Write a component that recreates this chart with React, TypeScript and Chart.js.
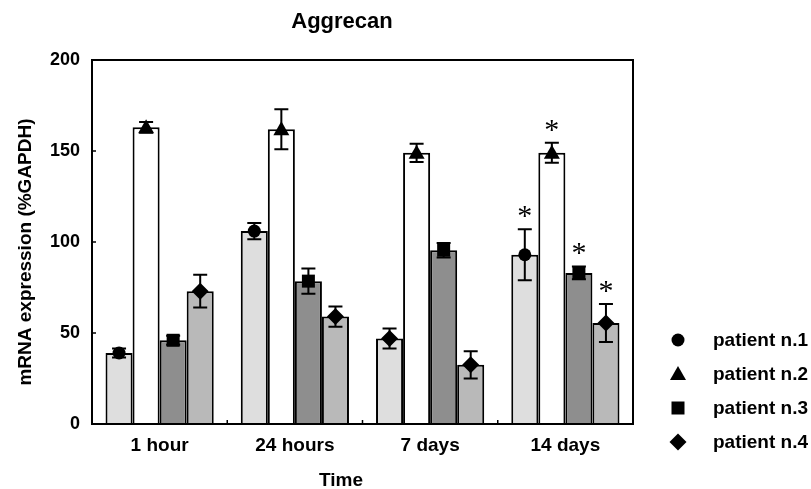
import React, { useEffect, useRef } from "react";
import { Chart, registerables } from "chart.js";

Chart.register(...registerables);

const categories = ["1 hour", "24 hours", "7 days", "14 days"];
const seriesNames = ["patient n.1", "patient n.2", "patient n.3", "patient n.4"];

const patient1 = [39, 106, 47, 93];
const patient1Err = [2.5, 4.5, 5.5, 14];
const patient2 = [163, 162, 149, 149];
const patient2Err = [3, 11, 5, 5.5];
const patient3 = [46, 78.5, 95.5, 83];
const patient3Err = [2.5, 7, 4, 3.5];
const patient4 = [73, 59, 32.5, 55.5];
const patient4Err = [9, 5.5, 7.5, 10.5];

const patient1Markers = ["circle", "circle", "diamond", "circle"];
const patient2Markers = ["triangle", "triangle", "triangle", "triangle"];
const patient3Markers = ["square", "square", "square", "square"];
const patient4Markers = ["diamond", "diamond", "diamond", "diamond"];

const patient1Sig = [false, false, false, true];
const patient2Sig = [false, false, false, true];
const patient3Sig = [false, false, false, true];
const patient4Sig = [false, false, false, true];

const legendMarkers = ["circle", "triangle", "square", "diamond"];
const yTicks = [0, 50, 100, 150, 200];

const titleText = "Aggrecan";
const xTitle = "Time";
const yTitle = "mRNA expression (%GAPDH)";

const FONT = '"Liberation Sans", Arial, Helvetica, sans-serif';

const values = [patient1, patient2, patient3, patient4];
const errors = [patient1Err, patient2Err, patient3Err, patient4Err];
const markers = [patient1Markers, patient2Markers, patient3Markers, patient4Markers];
const sigs = [patient1Sig, patient2Sig, patient3Sig, patient4Sig];
const colors = ["#dedede", "#ffffff", "#8e8e8e", "#b9b9b9"];

function drawMarker(ctx: CanvasRenderingContext2D, shape: string, x: number, y: number) {
  ctx.beginPath();
  if (shape === "circle") {
    ctx.arc(x, y, 6.5, 0, Math.PI * 2);
  } else if (shape === "triangle") {
    ctx.moveTo(x, y - 8);
    ctx.lineTo(x + 8, y + 6);
    ctx.lineTo(x - 8, y + 6);
    ctx.closePath();
  } else if (shape === "square") {
    ctx.rect(x - 6.5, y - 6.5, 13, 13);
  } else {
    ctx.moveTo(x, y - 8.5);
    ctx.lineTo(x + 8.5, y);
    ctx.lineTo(x, y + 8.5);
    ctx.lineTo(x - 8.5, y);
    ctx.closePath();
  }
  ctx.fillStyle = "#000";
  ctx.fill();
}

const decorPlugin = {
  id: "decor",
  afterDatasetsDraw(chart: any) {
    const ctx: CanvasRenderingContext2D = chart.ctx;
    const ys = chart.scales.y;
    ctx.save();
    chart.data.datasets.forEach((_: any, i: number) => {
      const meta = chart.getDatasetMeta(i);
      meta.data.forEach((el: any, j: number) => {
        const v = values[i][j];
        const e = errors[i][j];
        const x = el.x;
        const yt = ys.getPixelForValue(v + e);
        const yb = ys.getPixelForValue(v - e);
        ctx.strokeStyle = "#000";
        ctx.lineWidth = 2;
        ctx.beginPath();
        ctx.moveTo(x, yt);
        ctx.lineTo(x, yb);
        ctx.moveTo(x - 7, yt);
        ctx.lineTo(x + 7, yt);
        ctx.moveTo(x - 7, yb);
        ctx.lineTo(x + 7, yb);
        ctx.stroke();
        drawMarker(ctx, markers[i][j], x, el.y);
        if (sigs[i][j]) {
          ctx.fillStyle = "#000";
          ctx.font = '30px "Liberation Serif", "Times New Roman", serif';
          ctx.textAlign = "center";
          ctx.textBaseline = "middle";
          ctx.fillText("*", x, yt - 12);
        }
      });
    });
    ctx.restore();
  },
  afterDraw(chart: any) {
    const ctx: CanvasRenderingContext2D = chart.ctx;
    const a = chart.chartArea;
    const ys = chart.scales.y;
    const xs = chart.scales.x;
    ctx.save();
    ctx.strokeStyle = "#000";
    ctx.lineWidth = 2;
    ctx.strokeRect(a.left, a.top, a.right - a.left, a.bottom - a.top);
    ctx.lineWidth = 1.5;
    ctx.beginPath();
    yTicks.forEach((t) => {
      const y = ys.getPixelForValue(t);
      ctx.moveTo(a.left, y);
      ctx.lineTo(a.left + 4, y);
    });
    for (let k = 1; k < categories.length; k++) {
      const x = (xs.getPixelForValue(k - 1) + xs.getPixelForValue(k)) / 2;
      ctx.moveTo(x, a.bottom);
      ctx.lineTo(x, a.bottom - 4);
    }
    ctx.stroke();

    ctx.fillStyle = "#000";
    ctx.textAlign = "center";
    ctx.textBaseline = "middle";
    ctx.font = `bold 22px ${FONT}`;
    ctx.fillText(titleText, 342, 22);
    ctx.font = `bold 19px ${FONT}`;
    ctx.fillText(xTitle, 341, 481);
    ctx.save();
    ctx.translate(26, 252);
    ctx.rotate(-Math.PI / 2);
    ctx.fillText(yTitle, 0, 0);
    ctx.restore();

    ctx.textAlign = "left";
    seriesNames.forEach((name, i) => {
      const y = 340 + i * 34;
      drawMarker(ctx, legendMarkers[i], 678, y);
      ctx.fillStyle = "#000";
      ctx.font = `bold 19px ${FONT}`;
      ctx.fillText(name, 713, y + 1);
    });
    ctx.restore();
  },
};

export default function App() {
  const ref = useRef<HTMLCanvasElement>(null);
  useEffect(() => {
    if (!ref.current) return;
    const chart = new Chart(ref.current, {
      type: "bar",
      data: {
        labels: categories,
        datasets: seriesNames.map((name, i) => ({
          label: name,
          data: values[i],
          backgroundColor: colors[i],
          borderColor: "#000",
          borderWidth: 2,
          categoryPercentage: 0.8,
          barPercentage: 1.0,
        })),
      },
      options: {
        responsive: false,
        animation: false,
        layout: { padding: { left: 0, top: 60, right: 178, bottom: 0 } },
        plugins: { legend: { display: false }, title: { display: false }, tooltip: { enabled: false } },
        scales: {
          x: {
            grid: { display: false, drawTicks: false },
            border: { display: false },
            ticks: { color: "#000", font: { family: FONT, size: 19, weight: "bold" }, padding: 10 },
            afterFit: (s: any) => {
              s.height = 65;
            },
          },
          y: {
            min: 0,
            max: 200,
            grid: { display: false, drawTicks: false },
            border: { display: false },
            ticks: {
              stepSize: 50,
              color: "#000",
              font: { family: FONT, size: 18, weight: "bold" },
              padding: 12,
            },
            afterFit: (s: any) => {
              s.width = 92;
            },
          },
        },
      },
      plugins: [decorPlugin],
    });
    return () => chart.destroy();
  }, []);
  return (
    <div style={{ position: "absolute", left: 0, top: 0, width: 811, height: 489, background: "#fff" }}>
      <canvas ref={ref} width={811} height={489} style={{ width: 811, height: 489 }} />
    </div>
  );
}
